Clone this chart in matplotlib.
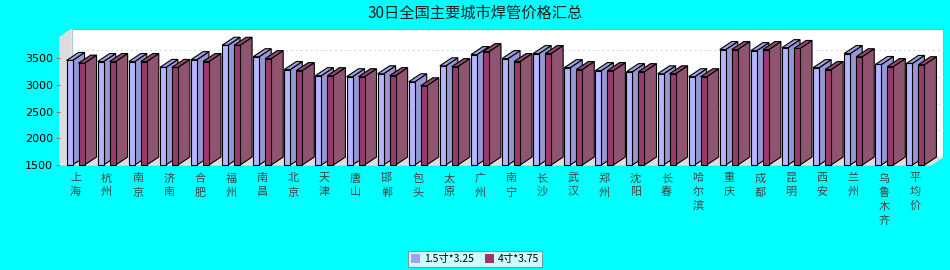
import matplotlib
matplotlib.use("Agg")
import matplotlib.pyplot as plt
from matplotlib.patches import Polygon, Rectangle, Patch
import numpy as np

plt.rcParams['font.family'] = ['Noto Sans CJK SC', 'DejaVu Sans']

title = '30日全国主要城市焊管价格汇总'
cities = ['上海', '杭州', '南京', '济南', '合肥', '福州', '南昌', '北京', '天津', '唐山',
          '邯郸', '包头', '太原', '广州', '南宁', '长沙', '武汉', '郑州', '沈阳', '长春',
          '哈尔滨', '重庆', '成都', '昆明', '西安', '兰州', '乌鲁木齐', '平均价']
series_names = ['1.5寸*3.25', '4寸*3.75']
price_15 = [3460, 3440, 3440, 3330, 3475, 3745, 3530, 3290, 3175, 3155,
            3210, 3060, 3360, 3570, 3495, 3590, 3325, 3270, 3250, 3210,
            3155, 3665, 3645, 3700, 3325, 3590, 3385, 3405]
price_4 = [3410, 3440, 3440, 3330, 3440, 3745, 3495, 3270, 3175, 3155,
           3175, 2985, 3345, 3625, 3440, 3590, 3290, 3270, 3250, 3210,
           3155, 3665, 3665, 3685, 3290, 3530, 3345, 3380]
y_ticks = [1500, 2000, 2500, 3000, 3500]

# colours: front, side, top
blue = ('#b4b4ff', '#9696d2', '#a0a0e0')
red = ('#9a3a6c', '#8e5470', '#94486e')
legend_colors = ['#a0a0ff', '#a03468']

W, H = 950, 270
fig = plt.figure(figsize=(W / 100, H / 100), dpi=100, facecolor='#00ffff')

# front plane of the plot in pixels
left, right, top, bottom = 60, 931, 37, 165
ax = fig.add_axes([left / W, (H - bottom) / H, (right - left) / W, (bottom - top) / H])
ax.set_facecolor('none')
ymin, ymax = 1500, 3900
n = len(cities)
ax.set_xlim(-0.5, n - 0.5)
ax.set_ylim(ymin, ymax)

# 3d depth offset: 12 px right, 8 px up -> data units
px_x = (right - left) / n
px_y = (bottom - top) / (ymax - ymin)
dx = 12 / px_x
dy = 8 / px_y

# back wall, left wall, floor
ax.add_patch(Rectangle((-0.5 + dx, ymin + dy), n, ymax - ymin, facecolor='white',
                       edgecolor='#80b8b8', lw=0.8, clip_on=False, zorder=0))
ax.add_patch(Polygon([(-0.5, ymin), (-0.5, ymax), (-0.5 + dx, ymax + dy), (-0.5 + dx, ymin + dy)],
                     closed=True, facecolor='#dcdcdc', edgecolor='#e8e8e8', lw=0.6,
                     clip_on=False, zorder=0.5))
ax.add_patch(Polygon([(-0.5, ymin), (n - 0.5, ymin), (n - 0.5 + dx, ymin + dy), (-0.5 + dx, ymin + dy)],
                     closed=True, facecolor='#dcdcdc', edgecolor='#f0f0f0', lw=0.6,
                     clip_on=False, zorder=0.5))
for t in y_ticks[1:]:
    ax.plot([-0.5 + dx, n - 0.5 + dx], [t + dy, t + dy], color='#d4d4d4', lw=0.7,
            ls=(0, (2, 3)), zorder=0.6, clip_on=False)

bar_w = 6 / px_x
shift = 6 / px_x
x = np.arange(n)


def draw_bars(xc, vals, cols, z):
    for xi, v in zip(xc, vals):
        x0, x1 = xi - bar_w / 2, xi + bar_w / 2
        ax.add_patch(Polygon([(x1, ymin), (x1, v), (x1 + dx, v + dy), (x1 + dx, ymin + dy)],
                             closed=True, facecolor=cols[1], edgecolor='black', lw=0.8,
                             clip_on=False, zorder=z))
        ax.add_patch(Polygon([(x0, v), (x1, v), (x1 + dx, v + dy), (x0 + dx, v + dy)],
                             closed=True, facecolor=cols[2], edgecolor='black', lw=0.8,
                             clip_on=False, zorder=z))
    ax.bar(xc, np.array(vals) - ymin, bottom=ymin, width=bar_w, color=cols[0],
           edgecolor='black', lw=0.8, zorder=z + 0.1, clip_on=False)


draw_bars(x - shift, price_15, blue, 2)
draw_bars(x + shift, price_4, red, 3)

for s in ax.spines.values():
    s.set_visible(False)
ax.set_yticks(y_ticks)
ax.set_yticklabels([str(t) for t in y_ticks], fontsize=8, color='black',
                   family=['DejaVu Sans'])
ax.tick_params(axis='y', length=3, width=0.8, color='#a07070', pad=2)
ax.set_xticks(x)
ax.set_xticklabels(['\n'.join(c) for c in cities], fontsize=8, color='#444444',
                   linespacing=1.45)
ax.tick_params(axis='x', length=0, pad=6)

fig.text(0.5, 1 - 13 / H, title, ha='center', va='center', fontsize=11, color='#222222')

handles = [Patch(facecolor=c, edgecolor='none') for c in legend_colors]
leg = fig.legend(handles, series_names, loc='lower center', bbox_to_anchor=(0.5, 0.01),
                 ncol=2, fontsize=7.5, frameon=True, fancybox=False, handlelength=0.9,
                 handleheight=0.9, handletextpad=0.4, columnspacing=1.0,
                 borderpad=0.3, borderaxespad=0)
leg.get_frame().set_edgecolor('#808080')
leg.get_frame().set_linewidth(0.8)

fig.savefig('out.png', dpi=100, facecolor=fig.get_facecolor())
